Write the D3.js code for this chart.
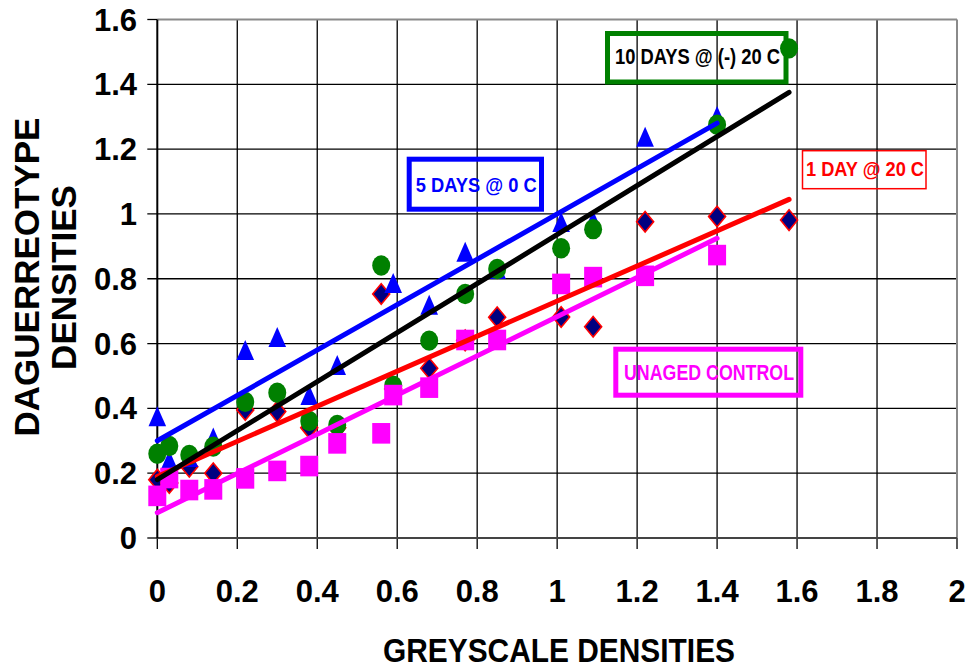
<!DOCTYPE html>
<html>
<head>
<meta charset="utf-8">
<script src="https://cdn.jsdelivr.net/npm/d3@7"></script>
<style>
  html, body { margin: 0; padding: 0; background: #fff; }
  svg { display: block; font-family: "Liberation Sans", Arial, sans-serif; font-weight: bold; }
</style>
</head>
<body>
<svg id="chart" width="969" height="668"></svg>
<script>
// ---------------- DATA ----------------
const greyscale = [0, 0.03, 0.08, 0.14, 0.22, 0.30, 0.38, 0.45, 0.56, 0.59, 0.68, 0.77, 0.85, 1.01, 1.09, 1.22, 1.40, 1.58];
const oneDay20C    = [0.18, 0.17, 0.22, 0.20, 0.395, 0.39, 0.34, 0.34, 0.753, 0.46, 0.524, 0.61, 0.681, 0.682, 0.652, 0.976, 0.992, 0.981];
const fiveDays0C   = [0.376, 0.24, 0.25, 0.31, 0.58, 0.62, 0.441, 0.534, null, 0.787, 0.72, 0.883, 0.83, 0.975, 0.98, 1.238, 1.302, null];
const tenDaysM20C  = [0.26, 0.284, 0.256, 0.282, 0.42, 0.448, 0.361, 0.349, 0.841, 0.47, 0.609, 0.753, 0.83, 0.894, 0.953, null, 1.275, 1.511];
const unaged       = [0.13, 0.185, 0.148, 0.15, 0.184, 0.207, 0.222, 0.292, 0.323, 0.441, 0.464, 0.611, 0.611, 0.784, 0.805, 0.809, 0.873, null];

// trend line end points [x0, x1] and [y0, y1]
const trendX_oneDay  = [0, 1.58], trendY_oneDay  = [0.19, 1.045];
const trendX_fiveDay = [0, 1.40], trendY_fiveDay = [0.30, 1.28];
const trendX_tenDay  = [0, 1.58], trendY_tenDay  = [0.18, 1.375];
const trendX_unaged  = [0, 1.40], trendY_unaged  = [0.078, 0.925];

const xTicks = [0, 0.2, 0.4, 0.6, 0.8, 1, 1.2, 1.4, 1.6, 1.8, 2];
const yTicks = [0, 0.2, 0.4, 0.6, 0.8, 1, 1.2, 1.4, 1.6];

const xTitle = "GREYSCALE DENSITIES";
const yTitle = ["DAGUERREOTYPE", "DENSITIES"];
const labelTen = "10 DAYS @ (-) 20 C";
const labelFive = "5 DAYS @ 0 C";
const labelOne = "1 DAY @ 20 C";
const labelUnaged = "UNAGED CONTROL";

// ---------------- CHART ----------------
const svg = d3.select("#chart");
const x = d3.scaleLinear().domain([0, 2]).range([157.3, 957]);
const y = d3.scaleLinear().domain([0, 1.6]).range([538, 19.5]);

// gridlines
const grid = svg.append("g");
grid.selectAll("line.h").data(yTicks.slice(1, -1)).join("line")
  .attr("x1", x(0) - 10).attr("x2", x(2))
  .attr("y1", d => y(d)).attr("y2", d => y(d))
  .attr("stroke", "#000").attr("stroke-width", 1.3);
grid.selectAll("line.v").data(xTicks.slice(1, -1)).join("line")
  .attr("x1", d => x(d)).attr("x2", d => x(d))
  .attr("y1", y(1.6)).attr("y2", y(0) + 11)
  .attr("stroke", "#000").attr("stroke-width", 1.3);
// outer ticks for ends
svg.append("line").attr("x1", x(0) - 10).attr("x2", x(0)).attr("y1", y(1.6)).attr("y2", y(1.6)).attr("stroke", "#000").attr("stroke-width", 1.3);
svg.append("line").attr("x1", x(0) - 10).attr("x2", x(0)).attr("y1", y(0)).attr("y2", y(0)).attr("stroke", "#000").attr("stroke-width", 1.3);
svg.append("line").attr("x1", x(0)).attr("x2", x(0)).attr("y1", y(0)).attr("y2", y(0) + 11).attr("stroke", "#000").attr("stroke-width", 1.3);
svg.append("line").attr("x1", x(2)).attr("x2", x(2)).attr("y1", y(0)).attr("y2", y(0) + 11).attr("stroke", "#000").attr("stroke-width", 1.3);

// border
svg.append("line").attr("x1", x(0)).attr("x2", x(2)).attr("y1", y(1.6)).attr("y2", y(1.6)).attr("stroke", "#8a8a8a").attr("stroke-width", 2);
svg.append("line").attr("x1", x(2)).attr("x2", x(2)).attr("y1", y(1.6)).attr("y2", y(0)).attr("stroke", "#8a8a8a").attr("stroke-width", 2);
svg.append("line").attr("x1", x(0)).attr("x2", x(2)).attr("y1", y(0)).attr("y2", y(0)).attr("stroke", "#444").attr("stroke-width", 2.2);
svg.append("line").attr("x1", x(0)).attr("x2", x(0)).attr("y1", y(1.6)).attr("y2", y(0)).attr("stroke", "#000").attr("stroke-width", 2);

// tick labels
svg.append("g").selectAll("text").data(yTicks).join("text")
  .attr("x", 137).attr("y", d => y(d) + 11)
  .attr("text-anchor", "end").attr("font-size", 31).attr("fill", "#000")
  .text(d => d3.format("~g")(d));
svg.append("g").selectAll("text").data(xTicks).join("text")
  .attr("x", d => x(d)).attr("y", 601.5)
  .attr("text-anchor", "middle").attr("font-size", 31).attr("fill", "#000")
  .text(d => d3.format("~g")(d));

// axis titles
svg.append("text").attr("x", 559).attr("y", 662).attr("text-anchor", "middle")
  .attr("font-size", 33).attr("textLength", 352).attr("lengthAdjust", "spacingAndGlyphs")
  .text(xTitle);
svg.append("text").attr("transform", "translate(38.5,277) rotate(-90)").attr("text-anchor", "middle")
  .attr("font-size", 35).text(yTitle[0]);
svg.append("text").attr("transform", "translate(76,277.5) rotate(-90)").attr("text-anchor", "middle")
  .attr("font-size", 35).text(yTitle[1]);

// markers
const pts = (vals) => greyscale.map((g, i) => ({ x: g, y: vals[i] })).filter(d => d.y !== null && d.y !== undefined);
const markers = svg.append("g");
const diamondPath = "M0,-10.3L8.5,0L0,10.3L-8.5,0Z";
const trianglePath = "M0,-10L8.8,10L-8.8,10Z";

markers.append("g").selectAll("path").data(pts(oneDay20C)).join("path")
  .attr("d", diamondPath).attr("transform", d => `translate(${x(d.x)},${y(d.y)})`)
  .attr("fill", "#000080").attr("stroke", "#ff0000").attr("stroke-width", 1.6);
markers.append("g").selectAll("path").data(pts(fiveDays0C)).join("path")
  .attr("d", trianglePath).attr("transform", d => `translate(${x(d.x)},${y(d.y)})`)
  .attr("fill", "#0000ff");
markers.append("g").selectAll("ellipse").data(pts(tenDaysM20C)).join("ellipse")
  .attr("cx", d => x(d.x)).attr("cy", d => y(d.y)).attr("rx", 9).attr("ry", 10.2)
  .attr("fill", "#008000");
markers.append("g").selectAll("rect").data(pts(unaged)).join("rect")
  .attr("x", d => x(d.x) - 9).attr("y", d => y(d.y) - 10.3).attr("width", 18).attr("height", 20.6)
  .attr("fill", "#ff00ff");

// trend lines
const line = d3.line().x(d => x(d[0])).y(d => y(d[1]));
const trends = [
  [trendX_oneDay, trendY_oneDay, "#ff0000"],
  [trendX_unaged, trendY_unaged, "#ff00ff"],
  [trendX_fiveDay, trendY_fiveDay, "#0000ff"],
  [trendX_tenDay, trendY_tenDay, "#000000"]
];
trends.forEach(([tx, ty, c]) => {
  svg.append("path").datum(tx.map((v, i) => [v, ty[i]]))
    .attr("d", line).attr("fill", "none").attr("stroke", c)
    .attr("stroke-width", 5).attr("stroke-linecap", "round");
});

// annotation boxes
function box(rx, ry, w, h, stroke, sw, label, tx, ty, fs, tl, fill) {
  svg.append("rect").attr("x", rx).attr("y", ry).attr("width", w).attr("height", h)
    .attr("fill", "none").attr("stroke", stroke).attr("stroke-width", sw);
  svg.append("text").attr("x", tx).attr("y", ty).attr("font-size", fs)
    .attr("textLength", tl).attr("lengthAdjust", "spacingAndGlyphs")
    .attr("fill", fill).text(label);
}
box(607.5, 33.5, 178.5, 48.5, "#008000", 5, labelTen, 615, 64.3, 22, 165, "#000");
box(409.2, 159.2, 132.3, 50, "#0000ff", 5, labelFive, 415.7, 192.3, 21, 121, "#0000ff");
box(802.5, 150.7, 123.5, 38, "#ff0000", 1.5, labelOne, 806, 175.7, 20, 118, "#ff0000");
box(615.8, 349.2, 185, 46, "#ff00ff", 5, labelUnaged, 624, 380, 22, 170, "#ff00ff");
</script>
</body>
</html>
